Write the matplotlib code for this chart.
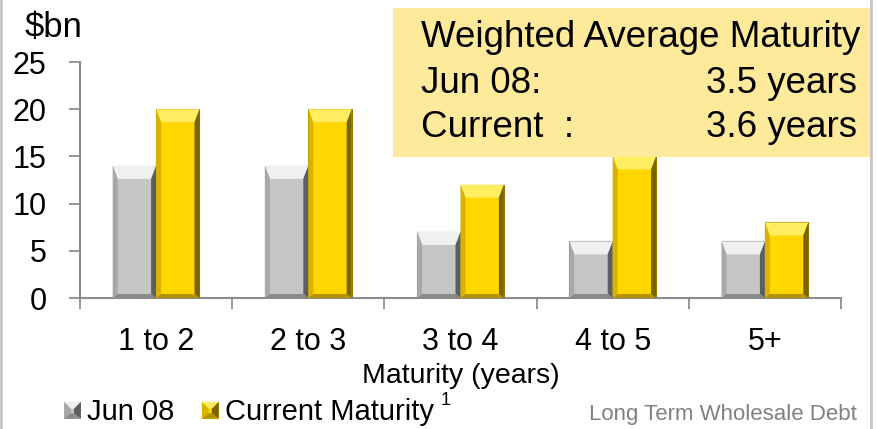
import matplotlib
matplotlib.use('Agg')
import matplotlib.pyplot as plt
from matplotlib.patches import Polygon, Rectangle
from matplotlib.legend_handler import HandlerBase
from matplotlib.lines import Line2D

plt.rcParams['font.family'] = ['Liberation Sans', 'DejaVu Sans']

# ---- data ----
categories = ['1 to 2', '2 to 3', '3 to 4', '4 to 5', '5+']
jun08 = [14, 14, 7, 6, 6]
current = [20, 20, 12, 15, 8]
yticks = [0, 5, 10, 15, 20, 25]
series_names = ['Jun 08', 'Current Maturity']
box_title = 'Weighted Average Maturity'
box_rows = [('Jun 08:', '3.5 years'), ('Current  :', '3.6 years')]
y_unit = '$bn'
x_title = 'Maturity (years)'
footnote = 'Long Term Wholesale Debt'

# ---- styles ----
GREY = dict(face='#C6C6C6', top='#F0F0F0', left='#A8A8A8', right='#5E5E5E',
            bottom='#8A8A8A', edge='#7A7A7A')
GOLD = dict(face='#FFD600', top='#FFEE60', left='#D8B400', right='#7A6300',
            bottom='#B39300', edge='#957800')

W, H = 878, 429
fig = plt.figure(figsize=(W / 100, H / 100), dpi=100)


def rect_px(x0, y0, x1, y1):
    return [x0 / W, 1 - y1 / H, (x1 - x0) / W, (y1 - y0) / H]


ax = fig.add_axes(rect_px(80, 62, 841, 298))
n = len(categories)
xs = list(range(n))
bw = 0.285
ax.set_xlim(-0.5, n - 0.5)
ax.set_ylim(0, 25)


def bevel_polys(x0, y0, x1, y1, ws=5, ht=13, hb=4):
    ht = min(ht, (y1 - y0) / 2)
    return {
        'top': [(x0, y1), (x1, y1), (x1 - ws, y1 - ht), (x0 + ws, y1 - ht)],
        'right': [(x1, y1), (x1, y0), (x1 - ws, y0 + hb), (x1 - ws, y1 - ht)],
        'left': [(x0, y1), (x0 + ws, y1 - ht), (x0 + ws, y0 + hb), (x0, y0)],
        'bottom': [(x0, y0), (x0 + ws, y0 + hb), (x1 - ws, y0 + hb), (x1, y0)],
    }


def draw_bevel(bars, st):
    inv = ax.transData.inverted()
    for b in bars:
        bb = b.get_window_extent()
        polys = bevel_polys(bb.x0, bb.y0, bb.x1, bb.y1)
        for k, pts in polys.items():
            dpts = inv.transform(pts)
            ax.add_patch(Polygon(dpts, closed=True, facecolor=st[k],
                                 edgecolor='none', zorder=3))


b1 = ax.bar([x - bw / 2 for x in xs], jun08, width=bw, color=GREY['face'],
            edgecolor=GREY['edge'], linewidth=0.8, zorder=2, label=series_names[0])
b2 = ax.bar([x + bw / 2 for x in xs], current, width=bw, color=GOLD['face'],
            edgecolor=GOLD['edge'], linewidth=0.8, zorder=2, label=series_names[1])
draw_bevel(b1, GREY)
draw_bevel(b2, GOLD)

for s in ['top', 'right']:
    ax.spines[s].set_visible(False)
for s in ['left', 'bottom']:
    ax.spines[s].set_color('#8C8C8C')
    ax.spines[s].set_linewidth(1.5)

ax.set_yticks(yticks)
ax.set_yticklabels([str(v) for v in yticks])
ax.tick_params(axis='y', direction='out', length=8, width=1.3, color='#8C8C8C',
               labelsize=22, pad=16)
ax.set_xticks(xs)
ax.set_xticklabels(categories)
ax.set_xticks([x - 0.5 for x in xs] + [n - 0.5], minor=True)
ax.tick_params(axis='x', which='major', length=0, labelsize=22, pad=21)
ax.tick_params(axis='x', which='minor', direction='out', length=8, width=1.3,
               color='#8C8C8C')
ax.set_xlabel(x_title, fontsize=20.5, labelpad=4)

# unit label
fig.text(25 / W, 1 - 37 / H, y_unit, fontsize=25, ha='left', va='baseline')

# highlighted box
fig.patches.append(Rectangle((393 / W, 1 - 157 / H), (871 - 393) / W, (157 - 8) / H,
                             transform=fig.transFigure, facecolor='#FFE99A',
                             edgecolor='none', zorder=5))
fig.text(421 / W, 1 - 47 / H, box_title, fontsize=26.5, ha='left', va='baseline', zorder=6)
for i, (lab, val) in enumerate(box_rows):
    yb = 1 - (93 + i * 44) / H
    fig.text(421 / W, yb, lab, fontsize=26.5, ha='left', va='baseline', zorder=6)
    fig.text(857 / W, yb, val, fontsize=26.5, ha='right', va='baseline', zorder=6)

# borders
for xb in [1.5, 871.5]:
    fig.add_artist(Line2D([xb / W, xb / W], [0, 1], transform=fig.transFigure,
                          color='#C4C4C4', linewidth=2, zorder=7))


# legend with bevelled squares
class HandlerBevel(HandlerBase):
    def __init__(self, st):
        super().__init__()
        self.st = st

    def create_artists(self, legend, orig_handle, xdescent, ydescent, width,
                       height, fontsize, trans):
        s = min(width, height)
        x0, y0 = -xdescent, -ydescent
        arts = [Rectangle((x0, y0), s, s, facecolor=self.st['face'],
                          edgecolor='none', transform=trans)]
        polys = bevel_polys(x0, y0, x0 + s, y0 + s, ws=5, ht=5, hb=4)
        for k, pts in polys.items():
            arts.append(Polygon(pts, closed=True, facecolor=self.st[k],
                                edgecolor='none', transform=trans))
        return arts


leg = fig.legend([b1, b2], series_names, loc='lower left',
                 bbox_to_anchor=(64 / W, 3 / H), ncol=2, frameon=False,
                 fontsize=21, handlelength=0.58, handleheight=0.58,
                 handletextpad=0.2, columnspacing=0.95, borderpad=0,
                 borderaxespad=0,
                 handler_map={b1: HandlerBevel(GREY), b2: HandlerBevel(GOLD)})

fig.text(441 / W, 1 - 405 / H, '1', fontsize=13, ha='left', va='baseline')
fig.text(857 / W, 1 - 420 / H, footnote, fontsize=16, color='#808080',
         ha='right', va='baseline')

fig.savefig('out.png', dpi=100)
